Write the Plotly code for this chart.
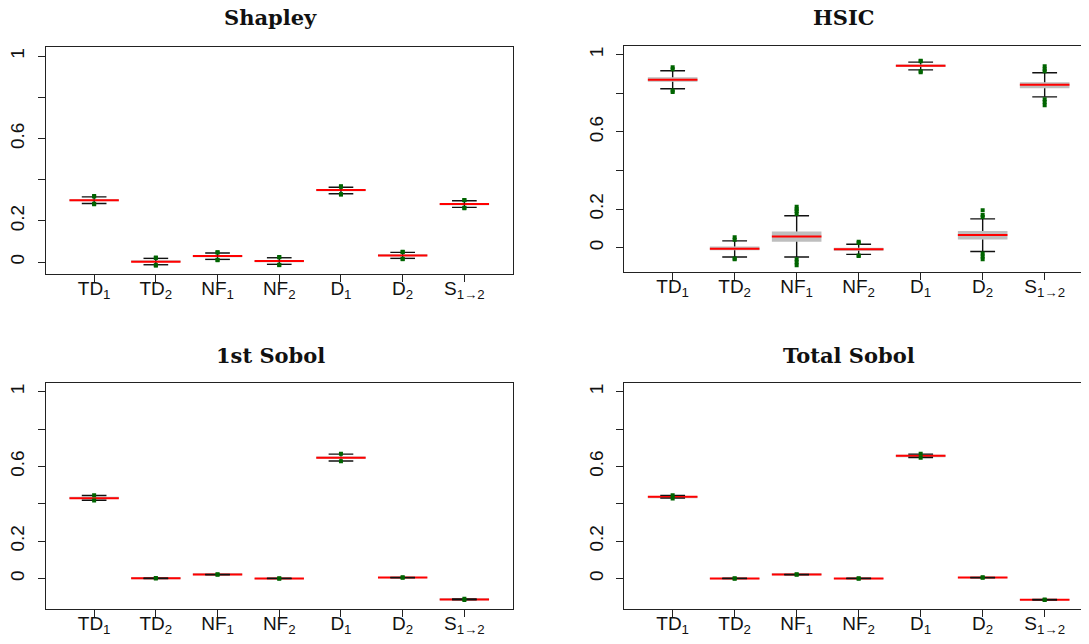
import plotly.graph_objects as go

labels = ["TD<sub>1</sub>", "TD<sub>2</sub>", "NF<sub>1</sub>", "NF<sub>2</sub>",
          "D<sub>1</sub>", "D<sub>2</sub>", "S<sub>1\u21922</sub>"]
titles = ["Shapley", "HSIC", "1st Sobol", "Total Sobol"]

# Shapley
shap_med = [0.301, 0.002, 0.029, 0.005, 0.350, 0.032, 0.282]
shap_q1 = [0.298, -0.001, 0.026, 0.002, 0.347, 0.029, 0.279]
shap_q3 = [0.304, 0.005, 0.032, 0.008, 0.353, 0.035, 0.285]
shap_lo = [0.285, -0.013, 0.013, -0.011, 0.332, 0.018, 0.266]
shap_hi = [0.317, 0.018, 0.044, 0.021, 0.364, 0.047, 0.298]
shap_out_hi = [[0.319, 0.321], [0.020, 0.022], [0.046, 0.048], [0.023, 0.025],
               [0.366, 0.368], [0.049, 0.050], [0.300, 0.302]]
shap_out_lo = [[0.283, 0.281], [-0.015, -0.017], [0.011, 0.009], [-0.013, -0.015],
               [0.330, 0.328], [0.016, 0.014], [0.264, 0.262]]

# HSIC
hsic_med = [0.870, -0.005, 0.059, -0.008, 0.943, 0.066, 0.845]
hsic_q1 = [0.860, -0.013, 0.031, -0.015, 0.937, 0.043, 0.826]
hsic_q3 = [0.883, 0.007, 0.085, 0.000, 0.949, 0.087, 0.857]
hsic_lo = [0.824, -0.048, -0.048, -0.034, 0.922, -0.019, 0.782]
hsic_hi = [0.917, 0.036, 0.166, 0.018, 0.962, 0.150, 0.907]
hsic_out_hi = [[0.925, 0.935], [0.042, 0.054], [0.175, 0.190, 0.200, 0.212], [0.025, 0.031],
               [0.966, 0.969], [0.160, 0.170, 0.195], [0.915, 0.925, 0.940]]
hsic_out_lo = [[0.815, 0.807], [-0.055, -0.060], [-0.060, -0.075, -0.090], [-0.040, -0.043],
               [0.915, 0.909], [-0.030, -0.045, -0.060], [0.770, 0.755, 0.738]]

# 1st order Sobol
sob1_med = [0.430, 0.001, 0.021, 0.000, 0.647, 0.005, -0.112]
sob1_q1 = [0.425, 0.000, 0.019, -0.001, 0.641, 0.004, -0.114]
sob1_q3 = [0.437, 0.002, 0.023, 0.001, 0.653, 0.006, -0.110]
sob1_lo = [0.419, 0.000, 0.020, -0.001, 0.629, 0.004, -0.114]
sob1_hi = [0.444, 0.002, 0.022, 0.001, 0.666, 0.006, -0.110]
sob1_out_hi = [[0.446], [0.002], [0.022], [0.001], [0.668], [0.006], [-0.109]]
sob1_out_lo = [[0.417], [0.000], [0.020], [-0.001], [0.627], [0.004], [-0.115]]

# Total Sobol
sobt_med = [0.437, 0.000, 0.021, 0.000, 0.657, 0.005, -0.114]
sobt_q1 = [0.433, -0.001, 0.019, -0.001, 0.652, 0.004, -0.116]
sobt_q3 = [0.441, 0.001, 0.023, 0.001, 0.662, 0.006, -0.112]
sobt_lo = [0.430, -0.001, 0.020, -0.001, 0.648, 0.004, -0.116]
sobt_hi = [0.445, 0.001, 0.022, 0.001, 0.666, 0.006, -0.112]
sobt_out_hi = [[0.446], [0.001], [0.022], [0.001], [0.668], [0.006], [-0.113]]
sobt_out_lo = [[0.428], [-0.001], [0.020], [-0.001], [0.646], [0.004], [-0.115]]

# the page body has an 8px margin, so the figure is 8px smaller and shifted
OFF = 8
W, H = 1089 - OFF, 644 - OFF


def px_x(v):
    return (v - OFF) / W


def px_y(v):
    return 1 - (v - OFF) / H


def add_panel(fig, n, med, q1, q3, lo, hi, out_hi, out_lo):
    xa = "x" if n == 1 else f"x{n}"
    ya = "y" if n == 1 else f"y{n}"
    pos = list(range(1, len(labels) + 1))
    # boxes
    fig.add_trace(go.Bar(x=pos, y=[b - a for a, b in zip(q1, q3)], base=q1, width=0.8,
                         marker=dict(color="#bebebe", line_width=0),
                         xaxis=xa, yaxis=ya, hoverinfo="skip"))
    # medians
    mx, my = [], []
    for p, m in zip(pos, med):
        mx += [p - 0.4, p + 0.4, None]
        my += [m, m, None]
    fig.add_trace(go.Scatter(x=mx, y=my, mode="lines", line=dict(color="red", width=2),
                             xaxis=xa, yaxis=ya, hoverinfo="skip"))
    # whiskers and staples
    wx, wy = [], []
    for p, a, b, l, h in zip(pos, q1, q3, lo, hi):
        wx += [p, p, None, p, p, None, p - 0.2, p + 0.2, None, p - 0.2, p + 0.2, None]
        wy += [b, h, None, a, l, None, h, h, None, l, l, None]
    fig.add_trace(go.Scatter(x=wx, y=wy, mode="lines", line=dict(color="#111111", width=1.4),
                             xaxis=xa, yaxis=ya, hoverinfo="skip"))
    # outliers
    ox, oy = [], []
    for p, oh, ol in zip(pos, out_hi, out_lo):
        for v in oh + ol:
            ox.append(p)
            oy.append(v)
    fig.add_trace(go.Scatter(x=ox, y=oy, mode="markers",
                             marker=dict(color="#006400", size=4, symbol="square"),
                             xaxis=xa, yaxis=ya, hoverinfo="skip"))


fig = go.Figure()
add_panel(fig, 1, shap_med, shap_q1, shap_q3, shap_lo, shap_hi, shap_out_hi, shap_out_lo)
add_panel(fig, 2, hsic_med, hsic_q1, hsic_q3, hsic_lo, hsic_hi, hsic_out_hi, hsic_out_lo)
add_panel(fig, 3, sob1_med, sob1_q1, sob1_q3, sob1_lo, sob1_hi, sob1_out_hi, sob1_out_lo)
add_panel(fig, 4, sobt_med, sobt_q1, sobt_q3, sobt_lo, sobt_hi, sobt_out_hi, sobt_out_lo)

tick_font = dict(family="Liberation Sans, Arial", size=19, color="#111111")


def xaxis(domain, rng, anchor):
    return dict(domain=domain, range=rng, anchor=anchor, automargin=False,
                tickvals=list(range(1, len(labels) + 1)),
                ticktext=labels, ticks="outside", ticklen=7, tickcolor="#222",
                ticklabelstandoff=-10,
                showline=True, linecolor="#222", linewidth=1, mirror=True,
                showgrid=False, zeroline=False, tickfont=tick_font)


def yaxis(domain, rng, anchor, mirror):
    return dict(domain=domain, range=rng, anchor=anchor, automargin=False,
                tickvals=[0, 0.2, 0.4, 0.6, 0.8, 1],
                ticktext=["0", "0.2", "", "0.6", "", "1"], tickangle=-90,
                ticks="outside", ticklen=7, tickcolor="#222", ticklabelstandoff=6,
                showline=True, linecolor="#222", linewidth=1, mirror=mirror,
                showgrid=False, zeroline=False, tickfont=tick_font)


left = [px_x(46), px_x(512.5)]
right = [px_x(624.3), 1.0]
fig.update_layout(
    width=W, height=H,
    margin=dict(l=0, r=0, t=0, b=0, autoexpand=False),
    paper_bgcolor="white", plot_bgcolor="white",
    showlegend=False,
    xaxis=xaxis(left, [0.22, 7.78], "y"),
    yaxis=yaxis([px_y(274), px_y(47.3)], [-0.058, 1.044], "x", True),
    xaxis2=xaxis(right, [0.22, 7.715], "y2"),
    yaxis2=yaxis([px_y(272.3), px_y(45.7)], [-0.127, 1.047], "x2", False),
    xaxis3=xaxis(left, [0.22, 7.78], "y3"),
    yaxis3=yaxis([px_y(609.3), px_y(383.3)], [-0.165, 1.045], "x3", True),
    xaxis4=xaxis(right, [0.22, 7.715], "y4"),
    yaxis4=yaxis([px_y(609.3), px_y(383.3)], [-0.165, 1.045], "x4", False),
)

title_pos = [(270, 18), (844, 18), (270, 355), (849, 355)]
for t, (tx, ty) in zip(titles, title_pos):
    fig.add_annotation(text=f"<b>{t}</b>", x=px_x(tx), y=px_y(ty), xref="paper", yref="paper",
                       showarrow=False, xanchor="center", yanchor="middle",
                       font=dict(family="DejaVu Serif", size=21, color="#111111"))

fig.write_html("out.html")
